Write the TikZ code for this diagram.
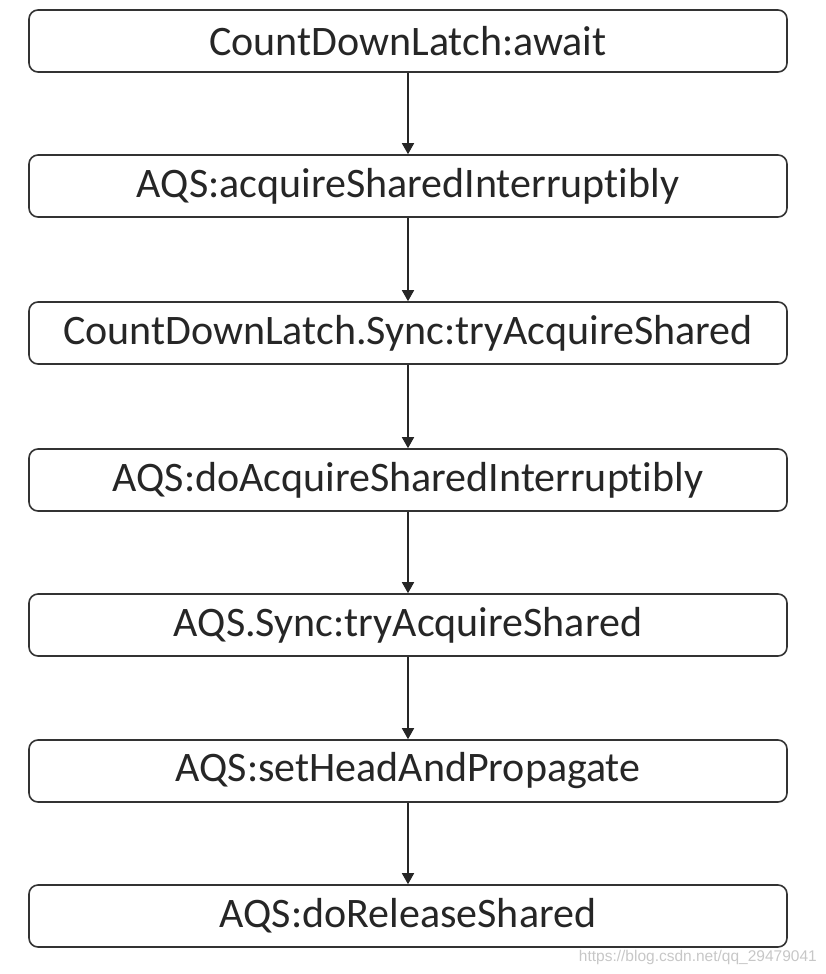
\documentclass[tikz,border=0pt]{standalone}
\usepackage{fontspec}
\setmainfont{Carlito}[Ligatures={NoCommon}]
\newfontfamily\wmfont{Liberation Sans}
\usetikzlibrary{arrows.meta}
\begin{document}
\begin{tikzpicture}[x=1pt,y=-1pt,
  box/.style={draw=black!80, line width=1.6pt, rounded corners=9pt, minimum width=758pt, minimum height=62pt, inner sep=0pt, font=\fontsize{42}{48}\selectfont, text=black!85},
  conn/.style={draw=black!85, line width=1.6pt, -{Triangle[length=11pt,width=12pt]}}]
\useasboundingbox (0,0) rectangle (826,974);
\node[box] (b1) at (408,41) {CountDownLatch:await};
\node[box] (b2) at (408,186) {AQS:acquireSharedInterruptibly};
\node[box] (b3) at (408,333) {CountDownLatch.Sync:tryAcquireShared};
\node[box] (b4) at (408,480) {AQS:doAcquireSharedInterruptibly};
\node[box] (b5) at (408,625) {AQS.Sync:tryAcquireShared};
\node[box] (b6) at (408,771) {AQS:setHeadAndPropagate};
\node[box] (b7) at (408,916) {AQS:doReleaseShared};
\draw[conn] (b1) -- (b2);
\draw[conn] (b2) -- (b3);
\draw[conn] (b3) -- (b4);
\draw[conn] (b4) -- (b5);
\draw[conn] (b5) -- (b6);
\draw[conn] (b6) -- (b7);
\node[anchor=east, text=black!22, font=\wmfont\fontsize{15.5}{18}\selectfont, inner sep=0pt] (wm) at (817,957) {https://blog.csdn.net/qq\_29479041};
\end{tikzpicture}
\end{document}
